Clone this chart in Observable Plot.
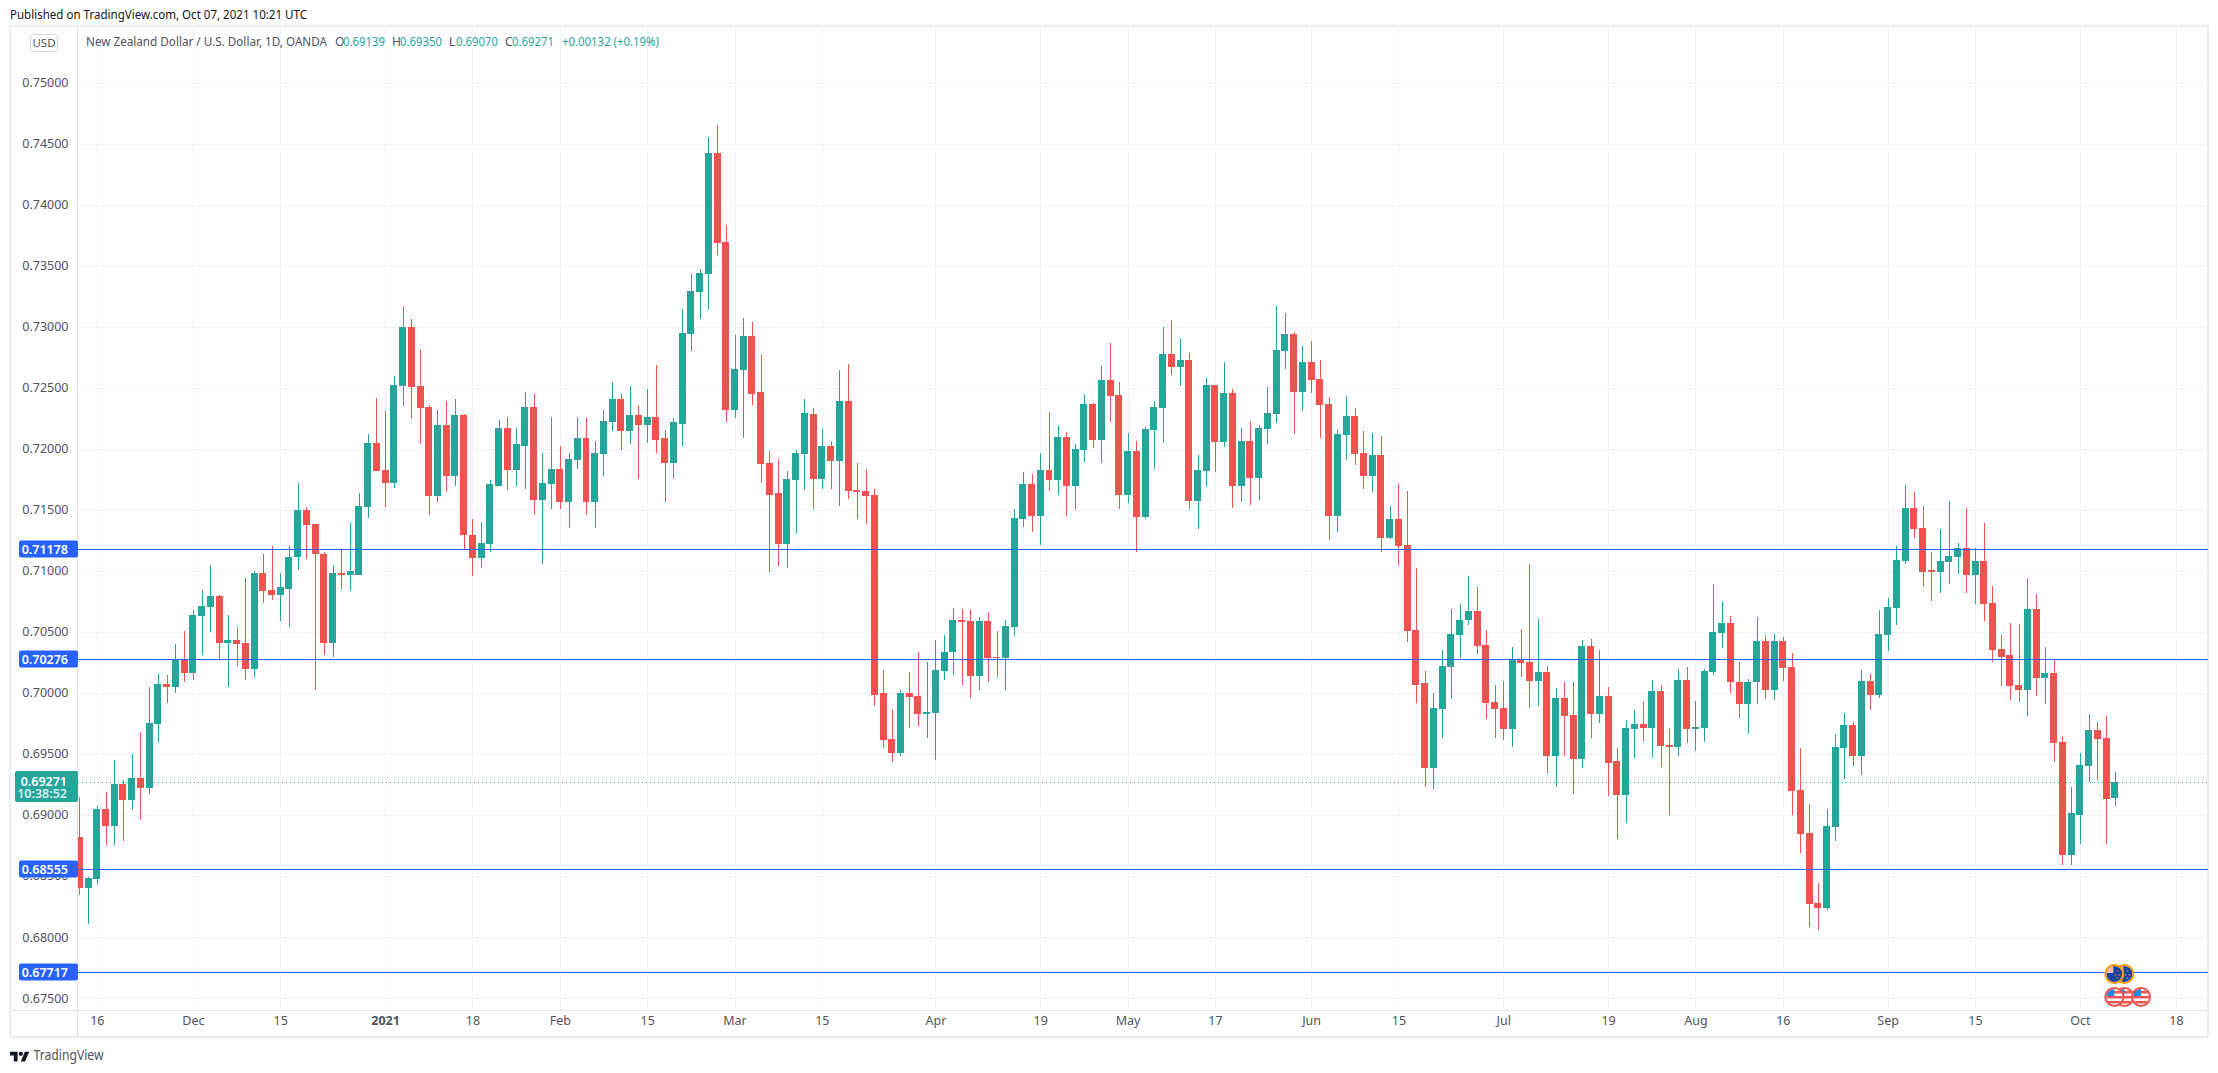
<!DOCTYPE html>
<html><head><meta charset="utf-8">
<style>html,body{margin:0;padding:0;background:#fff;overflow:hidden}</style>
<script src="https://cdn.jsdelivr.net/npm/d3@7"></script>
<script src="https://cdn.jsdelivr.net/npm/@observablehq/plot@0.6"></script>
</head><body><script>
const opens=[.68817,.68403,.68472,.69045,.68907,.69252,.69121,.693,.69224,.69741,
.70069,.70045,.70269,.70159,.70631,.70703,.7079,.7041,.70431,.70407,
.70197,.70986,.70841,.708,.70855,.7111,.71497,.7138,.71141,.7041,
.70986,.70966,.70966,.71524,.72045,.71824,.71721,.7251,.73,.7251,
.72344,.71616,.72192,.7178,.72273,.71296,.71103,.71217,.71698,.72171,
.71822,.72025,.72344,.71578,.7171,.71837,.71567,.71911,.72085,.7156,
.71954,.72217,.72404,.72143,.72273,.72192,.72262,.72085,.71886,.72205,
.72937,.73282,.73431,.74422,.73692,.72319,.72641,.72922,.72461,.71886,
.71634,.71217,.71745,.71954,.72287,.71752,.72021,.71899,.72389,.71659,
.71651,.71618,.69995,.69625,.69511,.69995,.69978,.69823,.69839,.70183,
.70331,.70593,.70585,.70142,.70585,.70297,.70289,.70536,.71421,.71709,
.71446,.71824,.71742,.72093,.71692,.71988,.72365,.7207,.72562,.72439,
.71618,.7198,.71438,.72152,.72332,.72775,.72668,.72725,.7157,.71816,
.7252,.72053,.72455,.71693,.72062,.71758,.7216,.72283,.72799,.72938,
.72463,.72709,.7257,.72365,.71448,.72112,.72268,.71964,.71775,.71947,
.71267,.71421,.71208,.70511,.70077,.69388,.69864,.70216,.70478,.70593,
.70667,.70396,.69929,.69872,.697,.70276,.7025,.70095,.70172,.69486,
.69956,.69818,.69457,.70387,.69823,.69978,.69438,.69167,.69708,.69749,
.69716,.70019,.69576,.6956,.70109,.69708,.69716,.70168,.70487,.70569,
.70093,.69905,.70085,.70421,.70021,.70429,.70208,.69208,.68855,.68281,
.6824,.68904,.69552,.69733,.69486,.70101,.69986,.70478,.70692,.71079,
.71512,.71348,.71003,.70994,.7107,.7111,.71184,.70964,.71079,.70735,
.70358,.7031,.70062,.70022,.70686,.70121,.70161,.69597,.68675,.69003,
.69402,.69695,.6963,.69139];
const closes=[.68403,.6848,.69045,.68907,.69252,.69121,.693,.69224,.69752,.70069,
.70045,.70269,.70159,.70634,.7071,.7079,.7041,.70431,.704,.70197,
.70986,.70831,.708,.70866,.71117,.71497,.71376,.71134,.7041,.70986,
.70966,.70997,.71528,.72045,.71814,.71721,.72521,.73,.72503,.72333,
.71616,.72192,.7178,.72273,.7129,.71103,.71224,.7171,.72171,.71822,
.72036,.72344,.71578,.71716,.71837,.71567,.71918,.72085,.7156,.71961,
.72224,.72404,.72143,.72273,.72192,.72262,.72075,.71886,.72216,.72947,
.73293,.73438,.74422,.73682,.72319,.72651,.72922,.7245,.71879,.71624,
.71217,.71752,.71961,.72292,.71752,.72021,.71899,.72389,.71651,.71643,
.7161,.69986,.69617,.69511,.69995,.6997,.69823,.69847,.70191,.70338,
.70593,.70577,.70142,.70585,.70289,.70289,.70544,.71429,.71709,.71446,
.71824,.71742,.72093,.71692,.71996,.72365,.7207,.72562,.72431,.71618,
.7198,.71438,.7216,.72341,.72775,.72668,.72725,.7157,.71824,.7252,
.72053,.72455,.71693,.72062,.71758,.72168,.72291,.72807,.72938,.72463,
.72709,.72562,.72357,.71448,.7212,.72268,.71956,.71775,.71947,.71267,
.71421,.712,.70503,.70068,.69388,.69872,.70224,.70486,.70601,.70667,
.70388,.69921,.69864,.697,.70276,.70243,.70095,.70172,.69486,.69956,
.69809,.69457,.70387,.69823,.69978,.69429,.69167,.69716,.69749,.69716,
.70019,.69568,.6956,.70109,.69708,.69724,.70183,.70495,.70569,.70085,
.69905,.70093,.70421,.70021,.70429,.702,.692,.68847,.68273,.6824,
.68913,.6956,.69733,.69486,.70101,.69986,.70484,.707,.71085,.71512,
.71339,.70994,.70994,.71079,.71119,.71184,.70964,.71079,.70726,.70348,
.70293,.70056,.70022,.70686,.70121,.70161,.69587,.68675,.69012,.69408,
.69695,.69621,.69133,.69271];
const highs=[.69145,.6849,.6907,.69186,.69448,.69283,.69503,.69676,.70045,.70152,
.70145,.70397,.7051,.70676,.70841,.71045,.708,.70641,.70538,.70945,
.70997,.71134,.712,.70986,.71207,.71717,.71524,.7138,.71152,.71045,
.71172,.7139,.71641,.72117,.72414,.72307,.72593,.73159,.73059,.72815,
.72355,.72319,.72393,.72404,.72287,.71421,.71402,.71742,.72235,.7226,
.72171,.72464,.7245,.71961,.7226,.72025,.71961,.7226,.72253,.72067,
.72319,.72543,.72451,.72511,.72362,.72493,.72684,.72156,.72248,.73142,
.73431,.7347,.74553,.74649,.73832,.72929,.73067,.73042,.72765,.71978,
.71918,.71819,.71993,.72404,.7233,.7216,.72062,.72644,.72693,.71883,
.71834,.71667,.70191,.69868,.7002,.70175,.70331,.70257,.70437,.70478,
.70699,.7069,.70682,.70618,.70659,.70506,.70593,.71503,.71808,.71792,
.71963,.723,.72184,.72135,.72037,.72439,.72373,.72676,.72865,.72545,
.72127,.72062,.72176,.7239,.72996,.73053,.72897,.72782,.71947,.72578,
.7252,.7271,.72488,.72168,.72226,.72193,.72504,.73168,.7311,.72955,
.7284,.72881,.72726,.72422,.7216,.7243,.72332,.72144,.72127,.72103,
.71527,.71708,.71651,.71019,.70183,.69995,.70355,.70691,.70732,.70954,
.70864,.70511,.70068,.70101,.70374,.70527,.71052,.70609,.70222,.70037,
.70085,.70093,.70437,.70445,.7035,.70052,.69552,.69781,.69863,.69937,
.70109,.70068,.69708,.70199,.70216,.69937,.70199,.70888,.70741,.70626,
.70257,.7011,.70618,.70471,.70479,.70454,.70323,.69552,.69093,.68443,
.69052,.69667,.69833,.69765,.70191,.70158,.70683,.70774,.712,.71701,
.71642,.71528,.71153,.71339,.71568,.71224,.71512,.71184,.71389,.70875,
.70472,.70571,.70562,.7093,.7081,.70373,.70274,.69643,.69226,.69507,
.69825,.6976,.69808,.6935];
const lows=[.68345,.68104,.68438,.68752,.68752,.68783,.69038,.68962,.69169,.69593,
.69921,.70003,.70086,.70103,.70307,.70497,.70269,.70052,.70224,.70103,
.70128,.70734,.70759,.70586,.70538,.7101,.71093,.70024,.7031,.70293,
.70855,.70831,.70966,.71431,.71814,.71521,.71679,.72348,.72241,.72036,
.71454,.7156,.71649,.71698,.71174,.70954,.71021,.71153,.71698,.71659,
.71698,.7167,.71454,.71053,.71504,.71504,.71347,.71833,.7146,.71354,
.71773,.72146,.71986,.72036,.71752,.7205,.71968,.71567,.71752,.72025,
.72798,.7306,.73142,.73585,.72223,.72248,.72085,.72362,.71716,.70993,
.71036,.71021,.71312,.71659,.71504,.71667,.71667,.71527,.71585,.71421,
.7138,.69896,.69552,.6943,.69486,.69716,.69732,.69634,.69454,.70109,
.7015,.70068,.69962,.70027,.70085,.70126,.70027,.70462,.71355,.71315,
.71208,.71651,.71618,.71453,.71503,.7189,.72004,.71883,.72217,.71503,
.71552,.7115,.71421,.71838,.72045,.72603,.72512,.71505,.7134,.71685,
.71807,.72012,.71512,.71561,.71536,.71578,.72037,.72209,.72652,.72119,
.72307,.72455,.72086,.7125,.71317,.71907,.71866,.71667,.71643,.7115,
.71258,.71044,.70413,.69913,.69232,.69216,.69634,.69946,.70289,.70552,
.70322,.69782,.69634,.6961,.69553,.70126,.69875,.69891,.69347,.69232,
.69486,.6917,.69381,.69634,.69757,.69155,.68806,.68937,.6947,.69609,
.69478,.69396,.69003,.69486,.69593,.69527,.69601,.70143,.70364,.70003,
.69798,.69675,.69905,.69946,.69938,.70101,.69003,.68691,.68085,.68055,
.68224,.6879,.69298,.69404,.69331,.69863,.69962,.70339,.7056,.71054,
.71268,.70865,.70751,.70816,.7089,.7097,.70816,.70726,.70587,.70252,
.70056,.69941,.69923,.69814,.69972,.69907,.69433,.68593,.68593,.68766,
.69269,.69283,.68766,.6907];
const yTicks=[.675,.68,.685,.69,.695,.70,.705,.71,.715,.72,.725,.73,.735,.74,.745,.75];
const xTickIndex=[2,13,23,35,45,55,65,75,85,98,110,120,130,141,151,163,175,185,195,207,217,229,240];
const xTickLabels=["16","Dec","15","2021","18","Feb","15","Mar","15","Apr","19","May","17","Jun","15","Jul","19","Aug","16","Sep","15","Oct","18"];
const levels=[.71178,.70276,.68555,.67717];
const lastPrice=.69271;
const countdown="10:38:52";
const nzEventIndex=[234.1,232.95];
const usEventIndex=[234.1,232.95,236];
const nzEventPrice=.67697, usEventPrice=.67509;
const titleText="Published on TradingView.com, Oct 07, 2021 10:21 UTC";
const pairText="New Zealand Dollar / U.S. Dollar, 1D, OANDA";
const ohlcParts=[["O","0.69139"],["H","0.69350"],["L","0.69070"],["C","0.69271"]];
const changeText="+0.00132 (+0.19%)";

const UP="#26a69a",DOWN="#ef5350",BLUE="#2962ff",GRID="#f1f2f5",FRAME="#eceef3",LINE="#e0e3eb",TXT="#50535e",INK="#131722";
const FONT="'Noto Sans',sans-serif";
const candles=opens.map((o,i)=>({i,o,c:closes[i],h:highs[i],l:lows[i],col:closes[i]>=o?UP:DOWN}));

function svgEl(tag,attrs,text){const e=document.createElementNS("http://www.w3.org/2000/svg",tag);
  for(const k in attrs)e.setAttribute(k,attrs[k]); if(text!=null)e.textContent=text; return e;}

function chrome(){
  const g=svgEl("g",{});
  g.append(svgEl("rect",{x:10,y:26,width:2198,height:1011,fill:"none",stroke:FRAME,"stroke-width":2.5}));
  g.append(svgEl("line",{x1:77.5,x2:77.5,y1:26,y2:1037,stroke:LINE}));
  g.append(svgEl("line",{x1:11,x2:2207,y1:1010.5,y2:1010.5,stroke:LINE}));
  return g;
}
function labels(index,scales){
  const g=svgEl("g",{"font-family":FONT});
  for(const v of levels){
    const y=Math.round(scales.y(v));
    g.append(svgEl("rect",{x:19,y:y-8.5,width:59,height:17,rx:2,fill:BLUE}));
    g.append(svgEl("text",{x:68,y:y+4.5,"text-anchor":"end",fill:"#fff","font-size":12.5,"font-weight":600},v.toFixed(5)));
  }
  const y=Math.round(scales.y(lastPrice));
  g.append(svgEl("rect",{x:15,y:y-11,width:63,height:31,rx:2,fill:UP}));
  g.append(svgEl("text",{x:67,y:y+4,"text-anchor":"end",fill:"#fff","font-size":12.5,"font-weight":600},lastPrice.toFixed(5)));
  g.append(svgEl("text",{x:67,y:y+15.5,"text-anchor":"end",fill:"#d3eeeb","font-size":12.5,"font-weight":600},countdown));
  return g;
}
function head(){
  const g=svgEl("g",{"font-family":FONT,"font-size":12,"text-anchor":"start"});
  g.append(svgEl("text",{x:10,y:19,fill:INK,textLength:297,lengthAdjust:"spacingAndGlyphs"},titleText));
  g.append(svgEl("rect",{x:30.5,y:34.5,width:27,height:17,rx:3,fill:"#fff",stroke:"#d1d4dc"}));
  g.append(svgEl("text",{x:44,y:47,"text-anchor":"middle",fill:TXT,"font-size":11.5},"USD"));
  g.append(svgEl("text",{x:86,y:46,fill:TXT,textLength:241,lengthAdjust:"spacingAndGlyphs"},pairText));
  const xs=[335,392,449,505], xv=[343,400,456,512];
  ohlcParts.forEach(([a,b],k)=>{
    g.append(svgEl("text",{x:xs[k],y:46,fill:TXT},a));
    g.append(svgEl("text",{x:xv[k],y:46,fill:UP,textLength:42,lengthAdjust:"spacingAndGlyphs"},b));
  });
  g.append(svgEl("text",{x:562,y:46,fill:UP,textLength:97,lengthAdjust:"spacingAndGlyphs"},changeText));
  const lg=svgEl("g",{transform:"translate(10,1049.5) scale(0.54)",fill:INK});
  lg.append(svgEl("path",{d:"M14 22H7V11H0V4h14v18zM28 22h-8l7.5-18h8L28 22z"}));
  lg.append(svgEl("circle",{cx:20,cy:8,r:4}));
  g.append(lg);
  g.append(svgEl("text",{x:33.5,y:1060,fill:"#50535e","font-size":14.5,textLength:70,lengthAdjust:"spacingAndGlyphs"},"TradingView"));
  return g;
}
let cid=0;
function flag(g,cx,cy,kind){
  const id="c"+(cid++);
  const cp=svgEl("clipPath",{id}); cp.append(svgEl("circle",{cx,cy,r:8})); g.append(cp);
  const f=svgEl("g",{"clip-path":`url(#${id})`});
  if(kind==="nz"){
    f.append(svgEl("rect",{x:cx-9,y:cy-9,width:18,height:18,fill:"#0d47a1"}));
    f.append(svgEl("rect",{x:cx-8,y:cy-8,width:7,height:7,fill:"#f4b9b9"}));
    for(const [dx,dy] of [[3,-3],[5,1],[1,1],[3,4]]) f.append(svgEl("circle",{cx:cx+dx,cy:cy+dy,r:0.9,fill:"#ef5350"}));
  }else{
    f.append(svgEl("rect",{x:cx-9,y:cy-9,width:18,height:18,fill:"#fff"}));
    for(const dy of [-6,-1,4]) f.append(svgEl("rect",{x:cx-9,y:cy+dy,width:18,height:2.5,fill:"#ef5350"}));
    f.append(svgEl("rect",{x:cx-9,y:cy-9,width:9,height:8,fill:"#1e88e5"}));
  }
  g.append(svgEl("circle",{cx,cy,r:9,fill:"#fff"}));
  g.append(f);
  g.append(svgEl("circle",{cx,cy,r:9,fill:"none",stroke:kind==="nz"?"#ff9800":"#ef5350","stroke-width":2}));
}
function events(index,scales){
  const g=svgEl("g",{});
  nzEventIndex.forEach(i=>flag(g,scales.x(i),scales.y(nzEventPrice),"nz"));
  [usEventIndex[0],usEventIndex[2],usEventIndex[1]].forEach(i=>flag(g,scales.x(i),scales.y(usEventPrice),"us"));
  return g;
}

const chart=Plot.plot({
  width:2218,height:1073,
  marginLeft:78,marginRight:10,marginTop:27,marginBottom:63,
  style:{background:"#fff",fontFamily:FONT,fontSize:"13px"},
  x:{type:"linear",domain:[-0.15,243.67],axis:null,label:null},
  y:{type:"linear",domain:[.67402,.75455],axis:null,label:null},
  marks:[
    Plot.ruleY(yTicks,{stroke:GRID,strokeWidth:1,shapeRendering:"crispEdges"}),
    Plot.ruleX(xTickIndex,{stroke:GRID,strokeWidth:1,shapeRendering:"crispEdges"}),
    chrome,
    Plot.axisY({ticks:yTicks,tickSize:0,tickPadding:10,tickFormat:d=>d.toFixed(5),fill:TXT,fontSize:12.5,label:null}),
    Plot.axisX({ticks:xTickIndex,tickSize:0,tickPadding:6,tickFormat:d=>xTickLabels[xTickIndex.indexOf(d)],fill:TXT,fontSize:12.5,label:null}),
    Plot.ruleY([lastPrice],{stroke:UP,strokeWidth:1,strokeDasharray:"1,3",shapeRendering:"crispEdges"}),
    Plot.ruleX(candles,{x:"i",y1:"l",y2:"h",stroke:"col",strokeWidth:1,clip:true,shapeRendering:"crispEdges"}),
    Plot.rect(candles,{x1:d=>d.i-0.4,x2:d=>d.i+0.4,y1:"o",y2:"c",fill:"col",clip:true,shapeRendering:"crispEdges"}),
    Plot.ruleY(levels,{stroke:BLUE,strokeWidth:1,shapeRendering:"crispEdges"}),
    labels,
    events,
    head
  ]
});
document.body.append(chart);
d3.select(chart).selectAll("text").filter(function(){return this.textContent==="2021"}).attr("font-weight","bold");
</script></body></html>
